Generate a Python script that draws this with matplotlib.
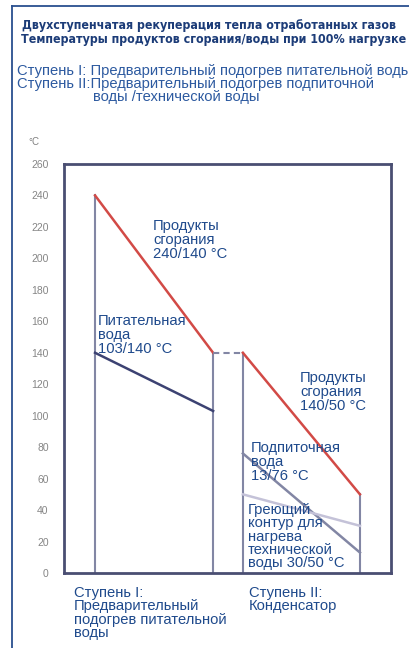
import matplotlib
matplotlib.use("Agg")
import matplotlib.pyplot as plt

# ---- data ----
stage_x = [0.95, 4.56, 5.47, 9.05]        # stage I start/end, stage II start/end
gas_stage1 = [240, 140]
feedwater = [140, 103]
gas_stage2 = [140, 50]
makeup_water = [76, 13]
heating_circuit = [50, 30]
yticks = list(range(0, 261, 20))

W, H = 410, 648
fig = plt.figure(figsize=(W / 100, H / 100), dpi=100)

def fx(x):
    return x / W

def fy(y):
    return 1 - y / H

sans = ['Liberation Sans', 'DejaVu Sans']

navy = '#1c3c78'
blue = '#2d5aa0'
lbl = '#1f4a8c'
frame = '#4a4e72'
red = '#d24a46'
dark = '#3c4272'
grey_line = '#8286a4'
light_line = '#c4c2d8'

# outer frame
fig.add_artist(plt.Line2D([fx(12), fx(12)], [fy(6), 0], color='#2a4f8f', lw=1.3))
fig.add_artist(plt.Line2D([fx(12), 1], [fy(6), fy(6)], color='#2a4f8f', lw=1.3))

tkw = dict(family='DejaVu Sans', stretch='condensed', weight='bold', fontsize=8.95,
           color=navy, va='center')
fig.text(fx(22), fy(25), 'Двухступенчатая рекуперация тепла отработанных газов', **tkw)
fig.text(fx(21), fy(40), 'Температуры продуктов сгорания/воды при 100% нагрузке', **tkw)
fig.text(fx(17), fy(71), 'Ступень I: Предварительный подогрев питательной воды',
         family=sans, fontsize=10.6, color=blue, va='center')
fig.text(fx(17), fy(84), 'Ступень II:Предварительный подогрев подпиточной',
         family=sans, fontsize=10.6, color=blue, va='center')
fig.text(fx(93), fy(97), 'воды /технической воды',
         family=sans, fontsize=10.6, color=blue, va='center')
fig.text(fx(28), fy(142), '°C', family=sans, fontsize=7, color='#808080', va='center')

ax = fig.add_axes([fx(64), fy(573), fx(391 - 64), (573 - 164) / H])
ax.set_xlim(0, 10)
ax.set_ylim(0, 260)
ax.set_yticks(yticks)
ax.set_xticks([])
ax.tick_params(axis='y', length=0, pad=11, labelsize=7.5, labelcolor='#858585')
for lab in ax.get_yticklabels():
    lab.set_family(sans)
for s in ax.spines.values():
    s.set_color(frame)
    s.set_linewidth(2)

# stage boundaries
ax.plot([stage_x[0]] * 2, [0, gas_stage1[0]], color=grey_line, lw=1.5)
ax.plot([stage_x[1]] * 2, [0, gas_stage1[1]], color=grey_line, lw=1.5)
ax.plot([stage_x[2]] * 2, [0, gas_stage2[0]], color=grey_line, lw=1.5)
ax.plot([stage_x[3]] * 2, [0, gas_stage2[1]], color=grey_line, lw=1.5)

ax.plot(stage_x[:2], gas_stage1, color=red, lw=1.8)
ax.plot(stage_x[:2], feedwater, color=dark, lw=1.8)
ax.plot(stage_x[1:3], [gas_stage1[1], gas_stage2[0]], color=grey_line, lw=1.5, ls=(0, (3, 2)))
ax.plot(stage_x[2:], gas_stage2, color=red, lw=1.8)
ax.plot(stage_x[2:], makeup_water, color=grey_line, lw=1.8)
ax.plot(stage_x[2:], heating_circuit, color=light_line, lw=1.8)

kw = dict(family=sans, fontsize=10.6, color=lbl, va='top', linespacing=1.0)
fig.text(fx(153), fy(219), 'Продукты\nсгорания\n240/140 °C', **kw)
fig.text(fx(98), fy(314), 'Питательная\nвода\n103/140 °C', **kw)
fig.text(fx(300), fy(371), 'Продукты\nсгорания\n140/50 °C', **kw)
fig.text(fx(251), fy(441), 'Подпиточная\nвода\n13/76 °C', **kw)
kw2 = dict(family=sans, fontsize=10.6, color=lbl, va='top', linespacing=0.94)
fig.text(fx(248), fy(503), 'Греющий\nконтур для\nнагрева\nтехнической\nводы 30/50 °C', **kw2)
fig.text(fx(74), fy(586), 'Ступень I:\nПредварительный\nподогрев питательной\nводы', **kw2)
fig.text(fx(249), fy(586), 'Ступень II:\nКонденсатор', **kw2)

fig.savefig('out.png', dpi=100)
